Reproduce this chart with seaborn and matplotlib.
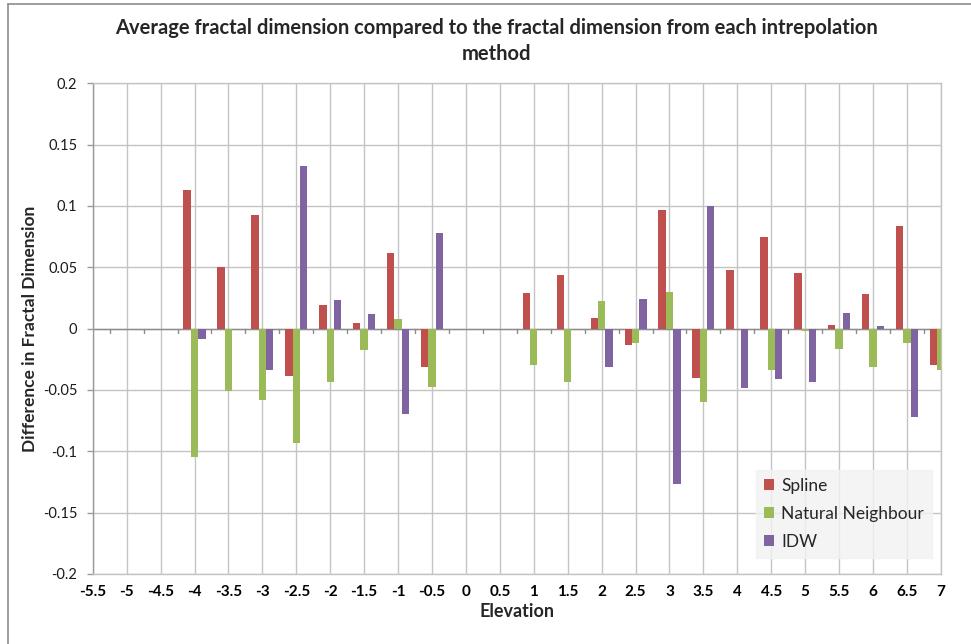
import numpy as np
import pandas as pd
import matplotlib
matplotlib.use("Agg")
import matplotlib.pyplot as plt
import seaborn as sns
from matplotlib.ticker import FuncFormatter, MultipleLocator
from matplotlib.lines import Line2D

# ---------------- data ----------------
elevations = ["-5.5", "-5", "-4.5", "-4", "-3.5", "-3", "-2.5", "-2", "-1.5", "-1",
              "-0.5", "0", "0.5", "1", "1.5", "2", "2.5", "3", "3.5", "4",
              "4.5", "5", "5.5", "6", "6.5", "7"]
nan = np.nan
spline = [nan, nan, nan, 0.113, 0.050, 0.0925, -0.039, 0.0193, 0.0049, 0.0615,
          -0.031, nan, nan, 0.0294, 0.0435, 0.0084, -0.013, 0.0963, -0.040, 0.0476,
          0.0748, 0.0455, 0.0033, 0.0283, 0.0833, -0.030]
natural = [nan, nan, nan, -0.1043, -0.0508, -0.058, -0.0932, -0.0437, -0.0174, 0.0079,
           -0.0478, nan, nan, -0.0293, -0.0437, 0.0223, -0.0114, 0.0302, -0.060, nan,
           -0.034, -0.002, -0.0163, -0.0312, -0.0114, -0.034]
idw = [nan, nan, nan, -0.0084, nan, -0.034, 0.1326, 0.0237, 0.012, -0.0698,
       0.078, nan, nan, nan, nan, -0.0312, 0.024, -0.127, 0.0999, -0.048,
       -0.0408, -0.0437, 0.0128, 0.0022, -0.0717, nan]
series_names = ["Spline", "Natural Neighbour", "IDW"]
colors = ["#C0504D", "#9BBB59", "#8064A2"]

df = pd.DataFrame({
    "Elevation": elevations * 3,
    "value": spline + natural + idw,
    "method": [series_names[0]] * len(elevations) + [series_names[1]] * len(elevations)
              + [series_names[2]] * len(elevations),
}).dropna()

# ---------------- figure ----------------
sns.set_theme(style="white")
plt.rcParams["font.family"] = ["Lato", "DejaVu Sans"]
plt.rcParams["axes.unicode_minus"] = False

fig = plt.figure(figsize=(9.71, 6.44), dpi=100)
ax = fig.add_axes([0.0955, 0.1087, 0.969 - 0.0955, 0.8707 - 0.1087])

sns.barplot(data=df, x="Elevation", y="value", hue="method", order=elevations,
            hue_order=series_names, palette=colors, width=0.65, errorbar=None,
            saturation=1, edgecolor="none", ax=ax, zorder=3)

n = len(elevations)
ax.set_xlim(0, n - 1)
ax.set_ylim(-0.2, 0.2)
ax.yaxis.set_major_locator(MultipleLocator(0.05))
ax.yaxis.set_major_formatter(FuncFormatter(lambda v, p: "%g" % round(v, 3)))

grid_c = "#c4c4c4"
ax.grid(True, axis="both", color=grid_c, linewidth=1.0, zorder=0)
ax.set_axisbelow(True)
for s in ["top", "right", "bottom"]:
    ax.spines[s].set_color(grid_c)
    ax.spines[s].set_linewidth(1.0)
ax.spines["left"].set_color("#9a9a9a")
ax.spines["left"].set_linewidth(1.0)

# zero axis line with small ticks between categories
ax.axhline(0, color="#8c8c8c", linewidth=1.0, zorder=2)
for i in range(n - 1):
    ax.plot([i + 0.5, i + 0.5], [0, -0.0035], color="#8c8c8c", linewidth=1.0, zorder=2)

ax.tick_params(axis="x", length=0, pad=8)
ax.tick_params(axis="y", length=4, width=1, color="#9a9a9a", direction="out", left=True, pad=7)
for lab in ax.get_xticklabels():
    lab.set_fontweight("bold")
    lab.set_fontsize(11)
    lab.set_color("#000000")
for lab in ax.get_yticklabels():
    lab.set_fontsize(10.5)
    lab.set_color("#1a1a1a")

ax.set_xlabel("Elevation", fontsize=13, fontweight="bold")
ax.xaxis.set_label_coords(0.5, -0.059)
ax.set_ylabel("Difference in Fractal Dimension", fontsize=12.5, fontweight="bold")
ax.yaxis.set_label_coords(-0.074, 0.5)
ax.yaxis.label.set_va("center")

leg = ax.legend(loc="lower right", bbox_to_anchor=(0.989, 0.033), borderaxespad=0,
                frameon=True, fontsize=12.5, handlelength=0.6, handleheight=0.6,
                handletextpad=0.4, labelspacing=0.7, borderpad=0.45, fancybox=False)
leg.get_frame().set_facecolor("#f2f2f2")
leg.get_frame().set_edgecolor("#f2f2f2")
leg.set_zorder(5)

fig.text(0.511, 0.936, "Average fractal dimension compared to the fractal dimension from each intrepolation\nmethod",
         ha="center", va="center", fontsize=14.5, fontweight="bold", linespacing=1.4)

# chart-area border (top and left edges visible)
fig.add_artist(Line2D([8 / 971, 1.0], [1 - 4 / 644, 1 - 4 / 644], transform=fig.transFigure,
                      color="#8c8c8c", linewidth=1.2))
fig.add_artist(Line2D([8 / 971, 8 / 971], [0.0, 1 - 4 / 644], transform=fig.transFigure,
                      color="#8c8c8c", linewidth=1.2))

fig.savefig("out.png", dpi=100)
